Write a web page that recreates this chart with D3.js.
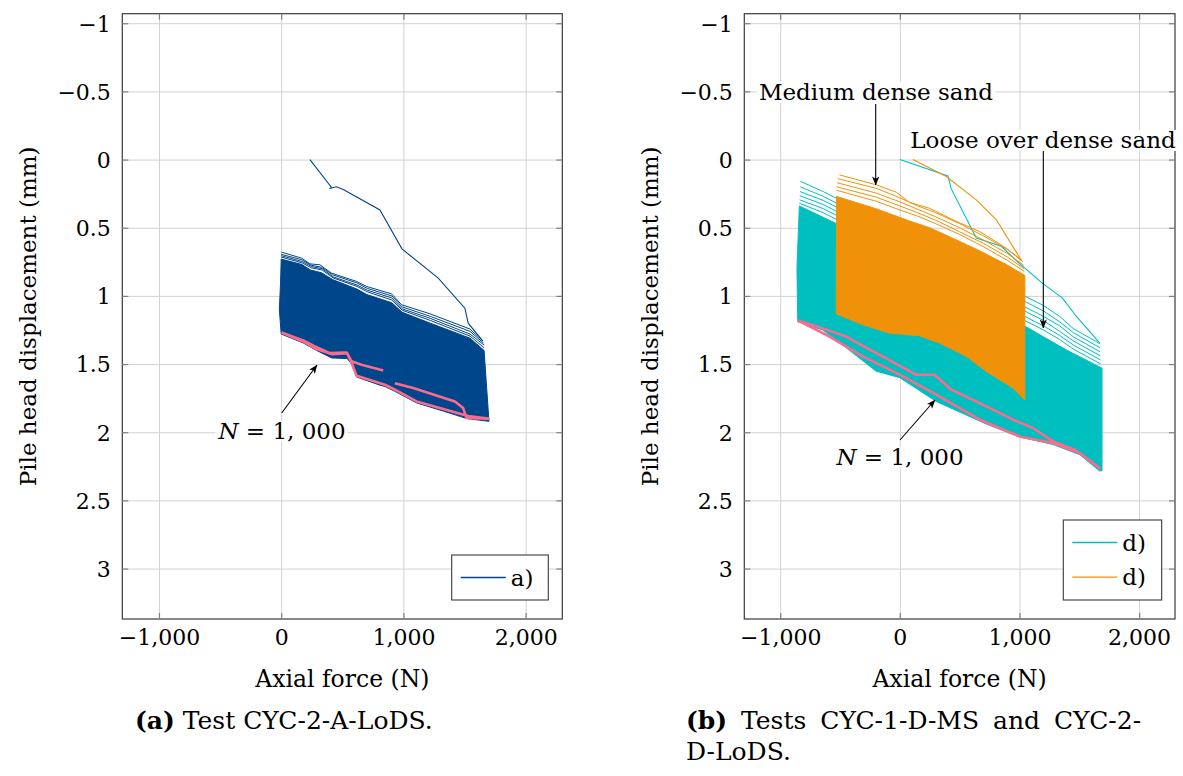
<!DOCTYPE html>
<html>
<head>
<meta charset="utf-8">
<script src="https://cdn.jsdelivr.net/npm/d3@7"></script>
<style>
  html, body { margin: 0; padding: 0; background: #ffffff; }
  svg { display: block; }
  text { font-family: "DejaVu Serif", "Liberation Serif", serif; fill: #000; }
</style>
</head>
<body>
<svg id="chart" width="1183" height="776"></svg>
<script>
// ---------------- data (force in N, displacement in mm) ----------------
const xTicks = [-1000, 0, 1000, 2000];
const xTickLabels = ["\u22121,000", "0", "1,000", "2,000"];
const yTicks = [-1, -0.5, 0, 0.5, 1, 1.5, 2, 2.5, 3];
const yTickLabels = ["\u22121", "\u22120.5", "0", "0.5", "1", "1.5", "2", "2.5", "3"];
const xDomain = [-1300, 2300];
const yDomain = [-1.07, 3.37];

// Panel (a): test CYC-2-A-LoDS
const aInitial = [[235,0.0],[412,0.205],[395,0.212],[453,0.2],[508,0.22],[808,0.37],[988,0.655],[1285,0.87],[1503,1.09],[1530,1.2],[1648,1.33]];
const aBandTop = [[0,0.73],[170,0.77],[240,0.81],[330,0.83],[420,0.88],[620,0.95],[700,0.99],[905,1.05],[990,1.12],[1220,1.2],[1545,1.31],[1660,1.40]];
const aBandBottom = [[1700,1.92],[1520,1.90],[1326,1.845],[1108,1.785],[930,1.70],[850,1.665],[808,1.655],[617,1.595],[576,1.50],[540,1.46],[412,1.455],[290,1.40],[180,1.345],[0,1.28],[-15,1.1],[-5,0.9]];
const aCycle1 = [[3,0.679],[167,0.723],[235,0.765],[317,0.772],[412,0.833],[617,0.894],[699,0.931],[903,0.985],[985,1.065],[1217,1.131],[1544,1.243],[1650,1.33]];
const aCycle2 = [[0,0.695],[170,0.735],[245,0.775],[330,0.79],[420,0.845],[620,0.905],[705,0.945],[905,1.0],[988,1.08],[1220,1.15],[1545,1.26],[1655,1.345]];
const aCycle3 = [[0,0.705],[172,0.748],[250,0.785],[335,0.80],[425,0.86],[620,0.92],[705,0.958],[905,1.015],[990,1.095],[1220,1.165],[1545,1.28],[1660,1.36]];
const aCycle4 = [[0,0.715],[172,0.758],[250,0.795],[335,0.81],[425,0.868],[620,0.93],[705,0.97],[905,1.03],[990,1.105],[1220,1.18],[1545,1.295],[1660,1.38]];
const aLastCycle = [[3,1.268],[180,1.327],[276,1.37],[399,1.42],[535,1.415],[576,1.48],[658,1.505],[835,1.547],[null,null],[930,1.64],[1080,1.676],[1421,1.774],[1489,1.823],[1517,1.896],[1694,1.90],[1544,1.884],[1326,1.83],[1108,1.774],[930,1.688],[849,1.652],[617,1.586],[576,1.49],[540,1.42],[412,1.427],[290,1.39],[180,1.334],[3,1.268]];

// Panel (b): CYC-2-D-LoDS (loose over dense sand, cyan)
const lodsInitial = [[0,0.0],[402,0.12],[430,0.215],[639,0.576],[848,0.636],[997,0.76],[1191,0.906],[1359,1.016],[1476,1.151],[1671,1.346]];
const lodsBandTop = [[-840,0.34],[-530,0.47],[0,0.68],[500,0.90],[1043,1.22],[1200,1.30],[1400,1.40],[1690,1.53]];
const lodsBandBottom = [[1690,2.28],[1671,2.285],[1504,2.165],[1280,2.09],[1002,2.035],[723,1.94],[305,1.775],[0,1.60],[-198,1.552],[-449,1.38],[-644,1.25],[-853,1.19],[-860,0.8]];
const lodsCycle1 = [[-830,0.16],[-640,0.235],[-505,0.295],[-200,0.42],[200,0.60],[600,0.78],[1043,1.0],[1200,1.07],[1336,1.15],[1450,1.24],[1671,1.35]];
const lodsCycle2 = [[-832,0.20],[-640,0.27],[-505,0.33],[-200,0.46],[200,0.64],[600,0.82],[1043,1.04],[1200,1.11],[1336,1.19],[1450,1.27],[1672,1.38]];
const lodsCycle3 = [[-834,0.235],[-640,0.30],[-505,0.36],[-200,0.49],[200,0.67],[600,0.86],[1043,1.08],[1200,1.15],[1336,1.22],[1450,1.30],[1674,1.41]];
const lodsCycle4 = [[-836,0.265],[-640,0.33],[-505,0.39],[-200,0.52],[200,0.70],[600,0.89],[1043,1.11],[1200,1.18],[1336,1.26],[1450,1.33],[1676,1.44]];
const lodsCycle5 = [[-838,0.295],[-640,0.36],[-505,0.42],[-200,0.55],[200,0.73],[600,0.92],[1043,1.15],[1200,1.22],[1336,1.29],[1450,1.36],[1678,1.47]];
const lodsCycle6 = [[-840,0.32],[-640,0.39],[-505,0.45],[-200,0.58],[200,0.76],[600,0.95],[1043,1.18],[1200,1.25],[1336,1.32],[1450,1.39],[1680,1.50]];
const lodsLastCycle = [[-853,1.18],[-672,1.229],[-449,1.298],[-170,1.432],[137,1.578],[290,1.578],[430,1.688],[723,1.81],[946,1.908],[1113,1.969],[1280,2.067],[1462,2.128],[1671,2.263],[1504,2.152],[1280,2.079],[1002,2.031],[669,1.908],[305,1.725],[0,1.578],[-310,1.444],[-588,1.298],[-853,1.18]];

// Panel (b): CYC-1-D-MS (medium dense sand, orange)
const msInitial = [[109,0.0],[388,0.124],[639,0.295],[807,0.442],[996,0.711],[1016,0.735]];
const msBandTop = [[-530,0.27],[-200,0.36],[80,0.45],[250,0.50],[450,0.58],[670,0.67],[890,0.77],[1045,0.85]];
const msBandBottom = [[1045,1.765],[946,1.676],[723,1.554],[556,1.444],[332,1.346],[165,1.293],[-86,1.273],[-310,1.212],[-532,1.131]];
const msCycle1 = [[-505,0.112],[-198,0.185],[-30,0.239],[81,0.315],[248,0.357],[444,0.442],[667,0.528],[890,0.65],[1016,0.735]];
const msCycle2 = [[-520,0.14],[-200,0.21],[0,0.28],[150,0.34],[300,0.39],[500,0.47],[700,0.56],[900,0.66],[1030,0.75]];
const msCycle3 = [[-525,0.17],[-200,0.245],[0,0.31],[150,0.365],[300,0.42],[500,0.50],[700,0.59],[900,0.69],[1035,0.775]];
const msCycle4 = [[-528,0.20],[-200,0.275],[0,0.34],[150,0.39],[300,0.445],[500,0.53],[700,0.615],[900,0.715],[1038,0.80]];
const msCycle5 = [[-530,0.225],[-200,0.305],[0,0.37],[150,0.415],[300,0.47],[500,0.55],[700,0.64],[900,0.74],[1040,0.82]];

// ---------------- styling ----------------
const C = { blue: "#00468b", cyan: "#00bfbf", orange: "#f0910a", pink: "#fb6b8f",
            grid: "#d2d2d2", tick: "#808080", frame: "#3a3a3a" };
const plotTop = 13.7, plotBottom = 619;
const FS_TICK = 22, FS_TEXT = 23.5, FS_CAP = 25;

const svg = d3.select("#chart");
const defs = svg.append("defs");
defs.append("marker").attr("id", "arrow").attr("viewBox", "0 0 10 8")
  .attr("refX", 9.5).attr("refY", 4).attr("markerWidth", 9).attr("markerHeight", 7.5)
  .attr("markerUnits", "userSpaceOnUse").attr("orient", "auto")
  .append("path").attr("d", "M0,0 L10,4 L0,8 L2.5,4 Z").attr("fill", "#000");

function drawPanel(cfg) {
  const x = d3.scaleLinear().domain(xDomain).range([cfg.left, cfg.right]);
  const y = d3.scaleLinear().domain(yDomain).range([plotTop, plotBottom]);
  const W = cfg.right - cfg.left, H = plotBottom - plotTop;
  const g = svg.append("g");

  // gridlines
  g.append("g").attr("transform", `translate(0,${plotBottom})`)
    .call(d3.axisBottom(x).tickValues(xTicks).tickSize(-H).tickFormat(""))
    .call(s => { s.select(".domain").remove(); s.selectAll("line").attr("stroke", C.grid).attr("stroke-width", 1); });
  g.append("g").attr("transform", `translate(${cfg.left},0)`)
    .call(d3.axisLeft(y).tickValues(yTicks).tickSize(-W).tickFormat(""))
    .call(s => { s.select(".domain").remove(); s.selectAll("line").attr("stroke", C.grid).attr("stroke-width", 1); });

  const clipId = "clip" + cfg.id;
  defs.append("clipPath").attr("id", clipId).append("rect")
    .attr("x", cfg.left).attr("y", plotTop).attr("width", W).attr("height", H);
  const plot = g.append("g").attr("clip-path", `url(#${clipId})`);

  const line = d3.line().defined(d => d[0] !== null).x(d => x(d[0])).y(d => y(d[1]));
  const poly = (t, b) => line(t.concat(b)) + "Z";

  cfg.series.forEach(s => {
    plot.append("path").attr("d", poly(s.bandTop, s.bandBottom))
      .attr("fill", s.color).attr("stroke", s.color).attr("stroke-width", 1).attr("stroke-linejoin", "round");
    s.cycles.forEach(c => plot.append("path").attr("d", line(c))
      .attr("fill", "none").attr("stroke", s.color).attr("stroke-width", 1));
    plot.append("path").attr("d", line(s.initial))
      .attr("fill", "none").attr("stroke", s.color).attr("stroke-width", 1.1);
  });
  cfg.last.forEach(l => plot.append("path").attr("d", line(l))
    .attr("fill", "none").attr("stroke", C.pink).attr("stroke-width", 2.6).attr("stroke-linejoin", "round"));

  // frame
  g.append("rect").attr("x", cfg.left).attr("y", plotTop).attr("width", W).attr("height", H)
    .attr("fill", "none").attr("stroke", C.frame).attr("stroke-width", 1.2);

  // inward tick marks on all sides
  const tk = s => { s.select(".domain").remove(); s.selectAll("line").attr("stroke", C.tick).attr("stroke-width", 1.2); };
  g.append("g").attr("transform", `translate(0,${plotBottom})`)
    .call(d3.axisBottom(x).tickValues(xTicks).tickSize(-6).tickFormat("")).call(tk);
  g.append("g").attr("transform", `translate(0,${plotTop})`)
    .call(d3.axisTop(x).tickValues(xTicks).tickSize(-6).tickFormat("")).call(tk);
  g.append("g").attr("transform", `translate(${cfg.left},0)`)
    .call(d3.axisLeft(y).tickValues(yTicks).tickSize(-6).tickFormat("")).call(tk);
  g.append("g").attr("transform", `translate(${cfg.right},0)`)
    .call(d3.axisRight(y).tickValues(yTicks).tickSize(-6).tickFormat("")).call(tk);

  // tick labels
  g.append("g").attr("transform", `translate(0,${plotBottom})`)
    .call(d3.axisBottom(x).tickValues(xTicks).tickSize(0).tickFormat((d, i) => xTickLabels[i]))
    .call(s => { s.select(".domain").remove();
      s.selectAll("text").attr("y", 26).attr("dy", null).attr("font-size", FS_TICK).attr("fill", "#000"); });
  g.append("g").attr("transform", `translate(${cfg.left},0)`)
    .call(d3.axisLeft(y).tickValues(yTicks).tickSize(0).tickFormat((d, i) => yTickLabels[i]))
    .call(s => { s.select(".domain").remove();
      s.selectAll("text").attr("x", -11.5).attr("dy", "0.36em").attr("font-size", FS_TICK).attr("fill", "#000"); });
  g.selectAll("g").attr("font-family", null).attr("font-size", null);

  // axis titles
  g.append("text").attr("x", (cfg.left + cfg.right) / 2).attr("y", 687)
    .attr("text-anchor", "middle").attr("font-size", FS_TEXT).text("Axial force (N)");
  g.append("text").attr("transform", `translate(${cfg.left - 86},${(plotTop + plotBottom) / 2}) rotate(-90)`)
    .attr("text-anchor", "middle").attr("font-size", 23).text("Pile head displacement (mm)");

  // annotations
  cfg.notes.forEach(n => {
    const ng = g.append("g");
    ng.append("line").attr("x1", n.from[0]).attr("y1", n.from[1]).attr("x2", n.to[0]).attr("y2", n.to[1])
      .attr("stroke", "#000").attr("stroke-width", 1.1).attr("marker-end", "url(#arrow)");
    const t = ng.append("text").attr("x", n.tx).attr("y", n.ty).attr("text-anchor", "middle").attr("font-size", 23);
    if (n.math) {
      t.append("tspan").attr("font-style", "italic").text("N");
      t.append("tspan").text(" = 1, 000");
    } else t.text(n.text);
    const bb = t.node().getBBox();
    ng.insert("rect", "text").attr("x", bb.x - 2).attr("y", bb.y + 3).attr("width", bb.width + 4)
      .attr("height", bb.height - 5).attr("fill", "#fff");
  });

  // legend
  const lg = g.append("g");
  lg.append("rect").attr("x", cfg.legend.x).attr("y", cfg.legend.y).attr("width", cfg.legend.w)
    .attr("height", cfg.legend.h).attr("fill", "#fff").attr("stroke", C.frame).attr("stroke-width", 1.1);
  cfg.legend.items.forEach((it, i) => {
    const yy = cfg.legend.y + 22.5 + i * 34.6;
    lg.append("line").attr("x1", cfg.legend.x + 9).attr("x2", cfg.legend.x + 54)
      .attr("y1", yy).attr("y2", yy).attr("stroke", it.color).attr("stroke-width", 1.3);
    lg.append("text").attr("x", cfg.legend.x + 59).attr("y", yy + 8).attr("font-size", 23).text(it.label);
  });

  // caption
  const cap = svg.append("text").attr("x", cfg.capX).attr("y", 729).attr("font-size", FS_CAP)
    .attr("word-spacing", cfg.capSpacing);
  cap.append("tspan").attr("font-weight", "bold").text(cfg.capBold);
  cap.append("tspan").text(cfg.capText);
  if (cfg.capText2) svg.append("text").attr("x", cfg.capX).attr("y", 760).attr("font-size", FS_CAP).text(cfg.capText2);
}

drawPanel({
  id: "a", left: 122.3, right: 562.3,
  series: [{ color: C.blue, bandTop: aBandTop, bandBottom: aBandBottom,
             cycles: [aCycle1, aCycle2, aCycle3, aCycle4], initial: aInitial }],
  last: [aLastCycle],
  notes: [{ math: true, tx: 282, ty: 439, from: [281.7, 413], to: [317, 365] }],
  legend: { x: 451.7, y: 555, w: 96.6, h: 45, items: [{ color: C.blue, label: "a)" }] },
  capX: 135, capSpacing: 0, capBold: "(a)", capText: " Test CYC-2-A-LoDS."
});

drawPanel({
  id: "b", left: 744.3, right: 1175,
  series: [
    { color: C.cyan, bandTop: lodsBandTop, bandBottom: lodsBandBottom,
      cycles: [lodsCycle1, lodsCycle2, lodsCycle3, lodsCycle4, lodsCycle5, lodsCycle6], initial: lodsInitial },
    { color: C.orange, bandTop: msBandTop, bandBottom: msBandBottom,
      cycles: [msCycle1, msCycle2, msCycle3, msCycle4, msCycle5], initial: msInitial }
  ],
  last: [lodsLastCycle],
  notes: [
    { math: true, tx: 900, ty: 465, from: [900, 440], to: [935, 400] },
    { text: "Medium dense sand", tx: 876, ty: 100, from: [875.7, 104], to: [875.7, 185] },
    { text: "Loose over dense sand", tx: 1043, ty: 148, from: [1043.3, 151], to: [1043.3, 328] }
  ],
  legend: { x: 1063.3, y: 520, w: 98.4, h: 80, items: [{ color: C.cyan, label: "d)" }, { color: C.orange, label: "d)" }] },
  capX: 686, capSpacing: 6, capBold: "(b)", capText: " Tests CYC-1-D-MS and CYC-2-", capText2: "D-LoDS."
});
</script>
</body>
</html>
